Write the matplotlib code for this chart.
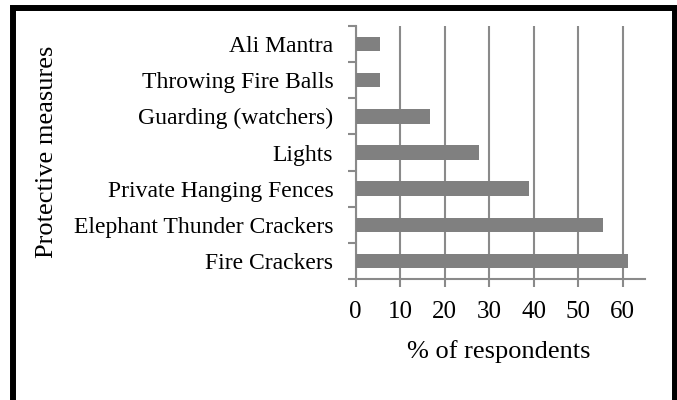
import matplotlib
matplotlib.use("Agg")
import matplotlib.pyplot as plt
from matplotlib.patches import Rectangle

categories = ["Fire Crackers", "Elephant Thunder Crackers", "Private Hanging Fences",
              "Lights", "Guarding (watchers)", "Throwing Fire Balls", "Ali Mantra"]
values = [61.1, 55.6, 39.0, 27.8, 16.7, 5.5, 5.5]
xticks = [0, 10, 20, 30, 40, 50, 60]

plt.rcParams['font.family'] = ['Liberation Serif', 'DejaVu Serif']
W, H = 677, 400
fig = plt.figure(figsize=(W/100, H/100), dpi=100)
ax = fig.add_axes([355.5/W, 1-279/H, (645-355.5)/W, (279-26)/H])

gray = "#8a8a8a"
ypos = list(range(len(categories)))
ax.barh(ypos, values, height=0.4, color="#808080", zorder=3)
ax.set_xlim(0, 65)
ax.set_ylim(-0.5, len(categories)-0.5)
ax.set_xticks(xticks)
ax.set_xticklabels([str(t) for t in xticks], fontsize=18)
ax.set_yticks([i - 0.5 for i in range(len(categories)+1)])
ax.set_yticklabels([])
ax.set_yticks(ypos, minor=True)
ax.set_yticklabels(categories, minor=True, fontsize=17)
ax.tick_params(axis='y', which='minor', length=0, pad=16)
ax.tick_params(axis='y', which='major', length=6, width=1.5, color=gray)
ax.tick_params(axis='x', length=6, width=1.5, color=gray, pad=10)
for s in ['top', 'right']:
    ax.spines[s].set_visible(False)
for s in ['left', 'bottom']:
    ax.spines[s].set_color(gray)
    ax.spines[s].set_linewidth(1.5)
ax.xaxis.grid(True, color=gray, linewidth=1.5, zorder=0)
ax.set_axisbelow(True)

fig.text(499/W, 1-352/H, "% of respondents", ha='center', va='center', fontsize=19)
fig.text(47/W, 1-152/H, "Protective measures", ha='center', va='center', rotation=90, fontsize=19)

fig.patches.append(Rectangle((13/W, -0.1), (674.5-13)/W, (1-8/H)+0.1, transform=fig.transFigure,
                             fill=False, edgecolor='black', linewidth=4.3, figure=fig))

fig.savefig("out.png", dpi=100)
